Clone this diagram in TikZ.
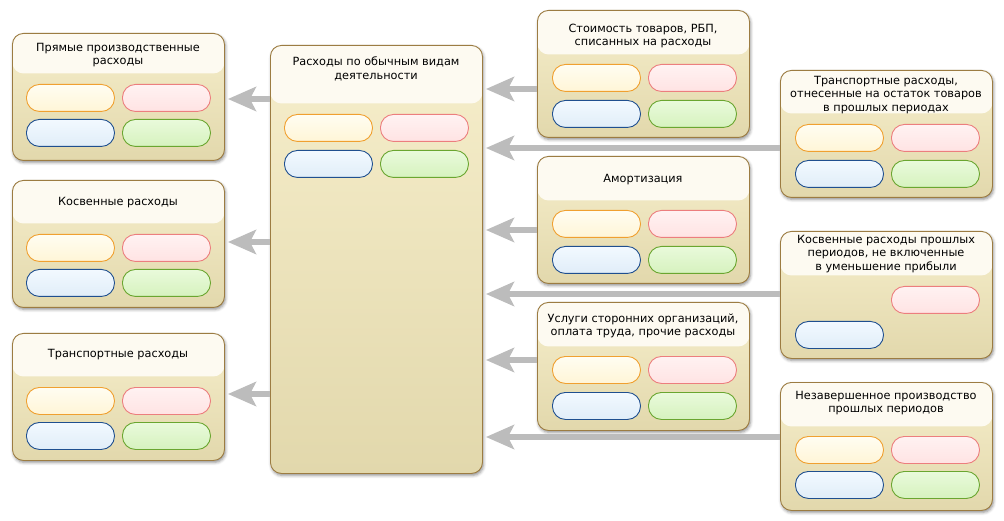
\documentclass[tikz,border=0pt]{standalone}
\usepackage{fontspec}
\setmainfont{DejaVu Sans}
\usetikzlibrary{arrows.meta,shadows.blur}

\definecolor{arrowgray}{HTML}{BCBCBC}
\definecolor{panelborder}{HTML}{9C7C42}
\definecolor{headfill}{HTML}{FDFAF1}
\definecolor{bodytop}{HTML}{F6EECB}
\definecolor{bodybot}{HTML}{E2D8AC}
\definecolor{oDraw}{HTML}{F0A030}\definecolor{oTop}{HTML}{FFFDF2}\definecolor{oBot}{HTML}{FFF5D6}
\definecolor{rDraw}{HTML}{EC7E7E}\definecolor{rTop}{HTML}{FFF2F2}\definecolor{rBot}{HTML}{FFE3E3}
\definecolor{bDraw}{HTML}{1F4F8F}\definecolor{bTop}{HTML}{F2F9FF}\definecolor{bBot}{HTML}{E0EDF8}
\definecolor{gDraw}{HTML}{6AA630}\definecolor{gTop}{HTML}{E9FADB}\definecolor{gBot}{HTML}{D6F2BE}

\tikzset{
  panel/.style={draw=panelborder, line width=0.9pt, rounded corners=11pt,
    minimum width=212pt, inner sep=0pt, anchor=north west,
    top color=bodytop, bottom color=bodybot,
    blur shadow={shadow xshift=1pt, shadow yshift=-2pt, shadow blur radius=3pt, shadow opacity=45}},
  header/.style={path picture={\fill[headfill] (path picture bounding box.north west)
    rectangle ([yshift=-#1]path picture bounding box.north east);}},
  ptitle/.style={align=center, font=\fontsize{11.3}{13.5}\selectfont, inner sep=0pt},
  pill/.style={minimum width=88pt, minimum height=27pt, rounded corners=13pt,
    line width=0.9pt, inner sep=0pt, anchor=north west},
  pillO/.style={pill, draw=oDraw, top color=oTop, bottom color=oBot},
  pillR/.style={pill, draw=rDraw, top color=rTop, bottom color=rBot},
  pillB/.style={pill, draw=bDraw, top color=bTop, bottom color=bBot},
  pillG/.style={pill, draw=gDraw, top color=gTop, bottom color=gBot},
  conn/.style={draw=arrowgray, line width=6.5pt,
    -{Stealth[length=28pt, width=24pt, inset=6pt]}, shorten >=3pt},
}

% #1 name, #2 left x, #3 top y, #4 height, #5 header height, #6 title y, #7 title
\newcommand\drawpanel[7]{%
  \node[panel, minimum height=#4pt, header=#5pt] (#1) at (#2,#3) {};
  \node[ptitle] (#1-t) at ({#2+106},#6) {#7};
}
% #1 name, #2 left x, #3 first row top, #4 second row top
\newcommand\fourpills[4]{%
  \node[pillO] (#1-o) at (#2,#3) {};
  \node[pillR] (#1-r) at ({#2+96},#3) {};
  \node[pillB] (#1-b) at (#2,#4) {};
  \node[pillG] (#1-g) at ({#2+96},#4) {};
}

\begin{document}
\begin{tikzpicture}[x=1pt, y=-1pt]
\useasboundingbox (0,0) rectangle (1004,521);

% left column
\drawpanel{L1}{12}{33}{127}{40}{55}{Прямые производственные\\расходы}
\fourpills{L1}{26}{84}{119}
\drawpanel{L2}{12}{180}{127}{43}{203}{Косвенные расходы}
\fourpills{L2}{26}{234}{269}
\drawpanel{L3}{12}{333}{127}{43}{355}{Транспортные расходы}
\fourpills{L3}{26}{387}{422}

% central panel
\drawpanel{C}{270}{45}{428}{58}{69}{Расходы по обычным видам\\деятельности}
\fourpills{C}{284}{114}{150}

% middle-right column
\drawpanel{M1}{537}{10}{127}{44}{36}{Стоимость товаров, РБП,\\списанных на расходы}
\fourpills{M1}{552}{64}{100}
\drawpanel{M2}{537}{156}{127}{44}{180}{Амортизация}
\fourpills{M2}{552}{210}{246}
\drawpanel{M3}{537}{302}{128}{44}{326}{Услуги сторонних организаций,\\оплата труда, прочие расходы}
\fourpills{M3}{552}{356}{392}

% right column
\drawpanel{R1}{780}{70}{127}{43}{95}{Транспортные расходы,\\отнесенные на остаток товаров\\в прошлых периодах}
\fourpills{R1}{795}{124}{160}
\drawpanel{R2}{780}{231}{127}{44}{254}{Косвенные расходы прошлых\\периодов, не включенные\\в уменьшение прибыли}
\node[pillR] (R2-r) at (891,286) {};
\node[pillB] (R2-b) at (795,321) {};
\drawpanel{R3}{780}{382}{128}{44}{403}{Незавершенное производство\\прошлых периодов}
\fourpills{R3}{795}{436}{471}

% connectors
\draw[conn] (C.west |- 0,99) -- (L1.east |- 0,99);
\draw[conn] (C.west |- 0,242) -- (L2.east |- 0,242);
\draw[conn] (C.west |- 0,394) -- (L3.east |- 0,394);
\draw[conn] (M1.west |- 0,89) -- (C.east |- 0,89);
\draw[conn] (R1.west |- 0,148) -- (C.east |- 0,148);
\draw[conn] (M2.west |- 0,230) -- (C.east |- 0,230);
\draw[conn] (R2.west |- 0,294) -- (C.east |- 0,294);
\draw[conn] (M3.west |- 0,360) -- (C.east |- 0,360);
\draw[conn] (R3.west |- 0,437) -- (C.east |- 0,437);
\end{tikzpicture}
\end{document}
